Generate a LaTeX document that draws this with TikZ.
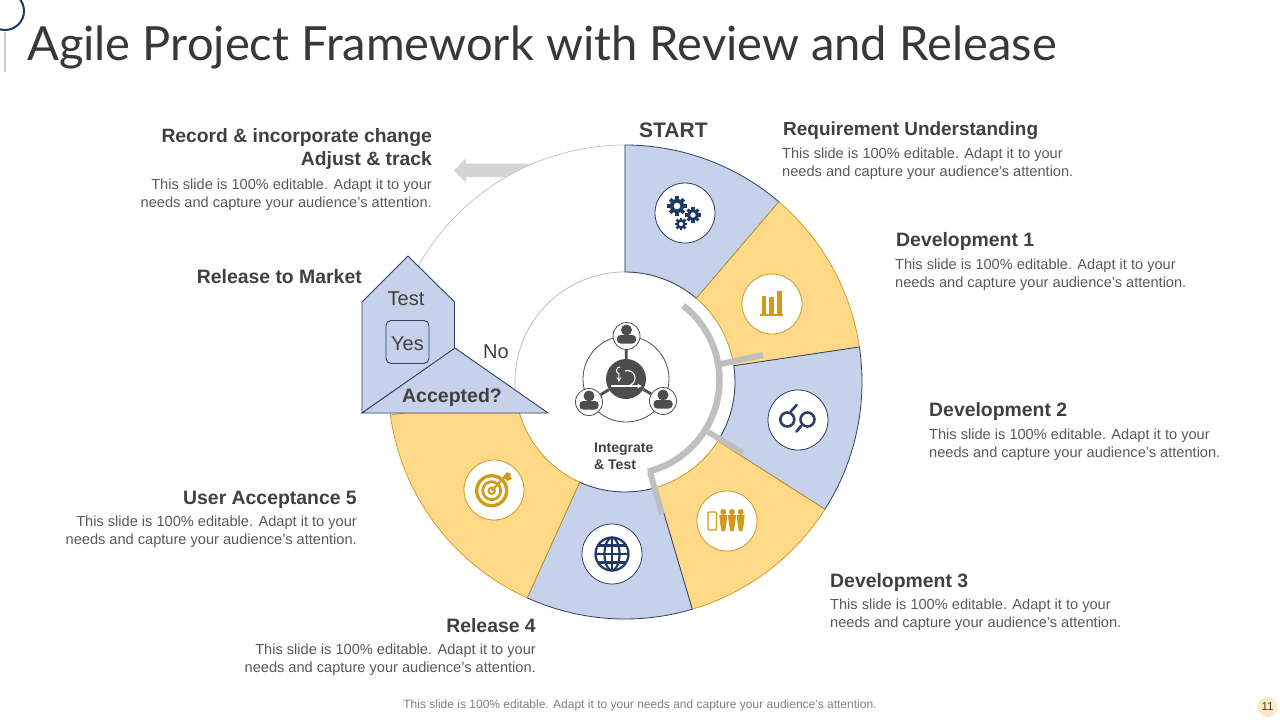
\documentclass[tikz,border=0pt]{standalone}
\usepackage{fontspec}
\setmainfont{Liberation Sans}
\newfontfamily\titlefont{Lato}
\usetikzlibrary{calc}
\definecolor{navy}{HTML}{1F3864}
\definecolor{edgeblue}{HTML}{2F3E66}
\definecolor{bluefill}{HTML}{C6D1EA}
\definecolor{yellowfill}{HTML}{FFD988}
\definecolor{gold}{HTML}{C99A1C}
\definecolor{goldicon}{HTML}{D09C18}
\definecolor{txt}{HTML}{404040}
\definecolor{bodytxt}{HTML}{595959}
\definecolor{graybar}{HTML}{BFBFBF}
\definecolor{darkicon}{HTML}{4D4D4D}
\definecolor{paleline}{HTML}{C5CEDC}
\definecolor{pagefill}{HTML}{FFE9BE}
\tikzset{
 x=1pt,y=-1pt,
 bluesec/.style={fill=bluefill,draw=edgeblue,line width=.8pt},
 yellowsec/.style={fill=yellowfill,draw=gold,line width=.7pt},
 whitesec/.style={fill=white,draw=black!25,line width=.7pt},
 head/.style={font=\fontsize{19.4}{24}\selectfont\bfseries,text=txt,inner sep=0pt},
 bodytext/.style={font=\fontsize{14.6}{18}\selectfont,text=bodytxt,inner sep=0pt,align=left},
 bodyr/.style={font=\fontsize{14.6}{18}\selectfont,text=bodytxt,inner sep=0pt,align=right},
 iconblue/.style={circle,fill=white,draw=edgeblue,line width=.8pt,minimum size=60pt,inner sep=0pt},
 iconyellow/.style={circle,fill=white,draw=gold,line width=.8pt,minimum size=60pt,inner sep=0pt},
 bar/.style={draw=graybar,line width=6pt},
 person/.style={circle,fill=white,draw=darkicon,line width=.8pt,minimum size=27pt,inner sep=0pt},
}
% annular wedge: #1 style, #2 start, #3 end (math angles)
\newcommand{\wedgeseg}[3]{%
 \path[#1] ($(625,382)+(#2:237pt)$) arc[start angle=#2,end angle=#3,radius=237pt]
   -- ($(625,382)+(#3:110pt)$) arc[start angle=#3,end angle=#2,radius=110pt] -- cycle;}
\newcommand{\gear}[4]{% x y radius colour
 \foreach \a in {0,45,...,315}{\draw[#4,line width=#3*0.5pt] ($(#1,#2)+(\a:#3*0.7pt)$) -- ($(#1,#2)+(\a:#3*1.25pt)$);}
 \draw[#4,line width=#3*0.5pt] (#1,#2) circle[radius=#3*0.72pt];}
\newcommand{\userfig}[2]{% person glyph
 \fill[darkicon] (#1,#2-6) circle[radius=5.5pt];
 \fill[darkicon,rounded corners=3.5pt] (#1-9.5,#2+7.5) rectangle (#1+9.5,#2-1);}
\newcommand{\goldman}[2]{%
 \fill[goldicon] (#1,#2-8) circle[radius=3pt];
 \fill[goldicon] (#1-4,#2-5) -- (#1+4,#2-5) -- (#1+3.2,#2+3) -- (#1+1.8,#2+11) -- (#1-1.8,#2+11) -- (#1-3.2,#2+3) -- cycle;}
\begin{document}
\begin{tikzpicture}
\useasboundingbox (0,0) rectangle (1280,720);
\fill[white] (0,0) rectangle (1280,720);
% corner mark
\draw[navy,line width=2pt] (5,11) circle[radius=19pt];
\draw[paleline,line width=1.2pt] (5,32) -- (5,72);
\node[anchor=west,inner sep=0pt,font=\titlefont\fontsize{47.1}{56}\selectfont,text=black!78] (title) at (27,47.5) {Agile Project Framework with Review and Release};
% arrow sits behind the white sector
\fill[black!17] (454,170.5) -- (466,158) -- (466,163.5) -- (535,163.5) -- (535,177) -- (466,177) -- (466,183) -- cycle;
\wedgeseg{whitesec}{90}{188}
\fill[white] (625,382) circle[radius=110pt];
\draw[black!25,line width=.7pt] (625,382) circle[radius=110pt];
% sectors
\wedgeseg{bluesec}{90}{49.5}
\wedgeseg{yellowsec}{49.5}{8.5}
\wedgeseg{bluesec}{8.5}{-32.5}
\wedgeseg{yellowsec}{-32.5}{-73.5}
\wedgeseg{bluesec}{-73.5}{-114.4}
\wedgeseg{yellowsec}{-114.4}{-172}
% grey feedback bars
\draw[graybar,line width=6.5pt,line cap=butt] ($(625,380)+(52:94.5pt)$) arc[start angle=52,end angle=-76,radius=94.5pt];
\coordinate (t1a) at (720.5,364); \coordinate (t1b) at (763,355);
\coordinate (t2a) at (708,432); \coordinate (t2b) at (743,453);
\coordinate (t3a) at (650,472); \coordinate (t3b) at (662,514);
\draw[bar] (t1a) -- (t1b);
\draw[bar] (t2a) -- (t2b);
\draw[bar] (t3a) -- (t3b);
% icon discs
\node[iconblue] (i1) at (685,213) {};
\node[iconyellow] (i2) at (772,304) {};
\node[iconblue] (i3) at (798,420) {};
\node[iconyellow] (i4) at (727,521) {};
\node[iconblue] (i5) at (612,554) {};
\node[iconyellow] (i6) at (494,490) {};
% gears
\gear{677}{206}{7.7}{navy}
\gear{693}{215}{6.2}{navy}
\gear{681}{224}{5}{navy}
% bars
\fill[goldicon] (760,313.5) rectangle (782.7,316);
\fill[goldicon] (761.7,295.7) rectangle (766.2,315);
\fill[goldicon] (769.3,297.3) rectangle (774,315);
\fill[goldicon] (777.3,290.7) rectangle (781.8,315);
% magnifiers
\draw[edgeblue,line width=2.6pt] (787.3,419.5) circle[radius=7pt];
\draw[edgeblue,line width=2.6pt] (807.5,419.5) circle[radius=7pt];
\draw[edgeblue,line width=2.6pt,line cap=round] (790.5,411.7) -- (796.7,405);
\draw[edgeblue,line width=2.8pt,line cap=round] (801,426) -- (796.5,431.5);
% phone and people
\draw[goldicon,line width=1.4pt,rounded corners=1pt] (708,512) rectangle (716.5,530);
\goldman{723.3}{520}
\goldman{732}{520}
\goldman{740.7}{520}
% globe
\begin{scope}[navy,line width=2.2pt]
\draw (612,554) circle[radius=16.5pt];
\draw (612,554) ellipse[x radius=7.5pt,y radius=16.5pt];
\draw (612,537.5) -- (612,570.5);
\draw (595.5,554) -- (628.5,554);
\draw (598,545.5) -- (626,545.5);
\draw (598,562.5) -- (626,562.5);
\end{scope}
% target
\begin{scope}[goldicon]
\draw[line width=3.4pt] (491.7,490.7) circle[radius=15pt];
\draw[line width=2.8pt] (491.7,490.7) circle[radius=9pt];
\draw[line width=2pt] (491.7,490.7) circle[radius=3.2pt];
\draw[line width=2.2pt] (491.7,490.7) -- (507,474.5);
\fill (503,477) -- (507,472) -- (511,474) -- (510,476) -- (512,479) -- (507,481) -- cycle;
\end{scope}
% centre hub
\draw[darkicon,line width=.8pt] (626,379) circle[radius=43pt];
\node[circle,fill=darkicon,minimum size=40pt,inner sep=0pt] (hub) at (626,379) {};
\node[person] (p1) at (626.5,336) {};
\node[person] (p2) at (589,402) {};
\node[person] (p3) at (663,401) {};
\draw[darkicon,line width=2.8pt] (p1) -- (hub);
\draw[darkicon,line width=2.8pt] (p2) -- (hub);
\draw[darkicon,line width=2.8pt] (p3) -- (hub);
\userfig{626.5}{336}
\userfig{589}{402}
\userfig{663}{401}
\draw[white,line width=1.1pt,-stealth] (611,386) -- (642,386);
\draw[white,line width=1.1pt] (625,371) arc[start angle=110,end angle=-70,radius=7.5pt];
\draw[white,line width=1.1pt,-stealth] (620,367) arc[start angle=90,end angle=250,radius=3.5pt] -- (619,382);
\node[font=\fontsize{14}{17.5}\selectfont\bfseries,text=txt,inner sep=0pt,align=left,anchor=north west] (integ) at (594,442.5) {Integrate\\\& Test};
% house + triangle
\path[fill=bluefill,draw=edgeblue,line width=.9pt] (408,256) -- (454.5,302) -- (454.5,349) -- (362,413) -- (362,302) -- cycle;
\path[fill=bluefill,draw=edgeblue,line width=.9pt] (455,348) -- (548,413) -- (362,413) -- cycle;
\node[draw=edgeblue,line width=.9pt,fill=bluefill,rounded corners=5pt,minimum width=43pt,minimum height=43pt,inner sep=0pt] (yes) at (407.5,342) {};
\node[font=\fontsize{20}{24}\selectfont,text=txt,inner sep=0pt] (yest) at (407.5,343.5) {Yes};
\node[font=\fontsize{20}{24}\selectfont,text=txt,inner sep=0pt] (test) at (406,299) {Test};
\node[font=\fontsize{19.5}{24}\selectfont\bfseries,text=txt,inner sep=0pt] (acc) at (452,397.5) {Accepted?};
\node[font=\fontsize{20}{24}\selectfont,text=txt,inner sep=0pt] (no) at (496,352) {No};
% labels
\node[head,anchor=west,font=\fontsize{21}{24}\selectfont\bfseries] (start) at (639,130) {START};
\node[head,anchor=west,font=\fontsize{18.96}{24}\selectfont\bfseries] (h1) at (783,131) {Requirement Understanding};
\node[bodytext,anchor=north west] (b1) at (782,148) {This slide is 100\% editable. Adapt it to your\\needs and capture your audience's attention.};
\node[head,anchor=west] (h2) at (896,241) {Development 1};
\node[bodytext,anchor=north west] (b2) at (895,259) {This slide is 100\% editable. Adapt it to your\\needs and capture your audience's attention.};
\node[head,anchor=west] (h3) at (929,411) {Development 2};
\node[bodytext,anchor=north west] (b3) at (929,429) {This slide is 100\% editable. Adapt it to your\\needs and capture your audience's attention.};
\node[head,anchor=west] (h4) at (830,582) {Development 3};
\node[bodytext,anchor=north west] (b4) at (830,599) {This slide is 100\% editable. Adapt it to your\\needs and capture your audience's attention.};
\node[head,anchor=east] (h5) at (536,626) {Release 4};
\node[bodyr,anchor=north east] (b5) at (536,644) {This slide is 100\% editable. Adapt it to your\\needs and capture your audience's attention.};
\node[head,anchor=east] (h6) at (357,500) {User Acceptance 5};
\node[bodyr,anchor=north east] (b6) at (357,516) {This slide is 100\% editable. Adapt it to your\\needs and capture your audience's attention.};
\node[head,anchor=east] (h7) at (362,277) {Release to Market};
\node[head,anchor=north east,align=right,font=\fontsize{19.3}{23}\selectfont\bfseries] (h8) at (432,128.5) {Record \& incorporate change\\Adjust \& track};
\node[bodyr,anchor=north east] (b8) at (432,179) {This slide is 100\% editable. Adapt it to your\\needs and capture your audience's attention.};
\node[font=\fontsize{12}{14}\selectfont,text=black!50,inner sep=0pt] (foot) at (640,705) {This slide is 100\% editable. Adapt it to your needs and capture your audience's attention.};
\node[circle,fill=pagefill,minimum size=20pt,inner sep=0pt,font=\fontsize{11.5}{12}\selectfont,text=txt] (pg) at (1267.5,707) {11};
\end{tikzpicture}
\end{document}
